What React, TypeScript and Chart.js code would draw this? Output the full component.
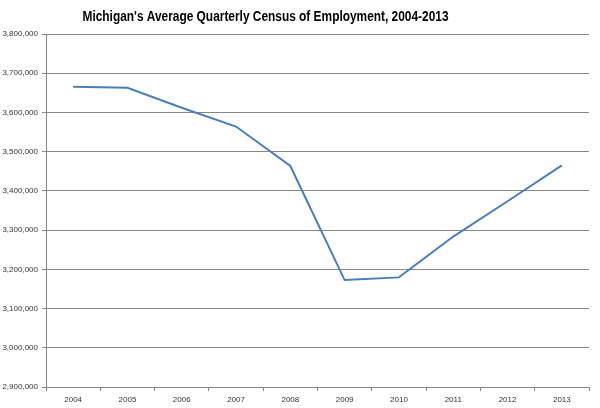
import React, { useEffect, useRef } from "react";
import { Chart, registerables } from "chart.js";

Chart.register(...registerables);

const TITLE = "Michigan's Average Quarterly Census of Employment, 2004-2013";
const years = ["2004", "2005", "2006", "2007", "2008", "2009", "2010", "2011", "2012", "2013"];
const employment = [3665800, 3663000, 3612000, 3564000, 3463500, 3172600, 3179500, 3283600, 3373600, 3465000];
const yMin = 2900000;
const yMax = 3800000;
const yStep = 100000;

const titlePlugin = {
  id: "customTitle",
  afterDraw(chart: any) {
    const ctx = chart.ctx;
    ctx.save();
    ctx.font = "bold 14px 'Liberation Sans', Arial, sans-serif";
    ctx.fillStyle = "#000";
    ctx.textAlign = "center";
    ctx.textBaseline = "middle";
    ctx.fillText(TITLE, 265.5, 17, 366);
    ctx.restore();
  },
};

export default function App() {
  const ref = useRef<HTMLCanvasElement>(null);
  useEffect(() => {
    if (!ref.current) return;
    const chart = new Chart(ref.current, {
      type: "line",
      data: {
        labels: years,
        datasets: [
          {
            data: employment,
            borderColor: "#4a7ebb",
            borderWidth: 2,
            pointRadius: 0,
            tension: 0,
            fill: false,
          },
        ],
      },
      options: {
        responsive: false,
        animation: false,
        layout: { padding: { top: 34, right: 11, left: 0, bottom: 0 } },
        plugins: { legend: { display: false }, title: { display: false }, tooltip: { enabled: false } },
        scales: {
          x: {
            offset: true,
            grid: {
              offset: true,
              drawOnChartArea: false,
              drawTicks: true,
              tickLength: 4,
              color: "#888888",
            },
            border: { display: true, color: "#888888" },
            ticks: {
              padding: 4,
              color: "#333333",
              font: { family: "'Liberation Sans', sans-serif", size: 8 },
              maxRotation: 0,
            },
            afterFit(scale: any) {
              scale.height = 21;
            },
          },
          y: {
            min: yMin,
            max: yMax,
            grid: { color: "#888888", tickLength: 4, drawTicks: true },
            border: { display: true, color: "#888888" },
            ticks: {
              stepSize: yStep,
              padding: 4,
              color: "#333333",
              font: { family: "'Liberation Sans', sans-serif", size: 8 },
              callback: (v: any) => Number(v).toLocaleString("en-US"),
            },
            afterFit(scale: any) {
              scale.width = 46;
            },
          },
        },
      },
      plugins: [titlePlugin],
    });
    return () => chart.destroy();
  }, []);
  return (
    <div style={{ position: "absolute", left: 0, top: 0, width: 600, height: 408, background: "#fff" }}>
      <canvas ref={ref} width={600} height={408} />
    </div>
  );
}
